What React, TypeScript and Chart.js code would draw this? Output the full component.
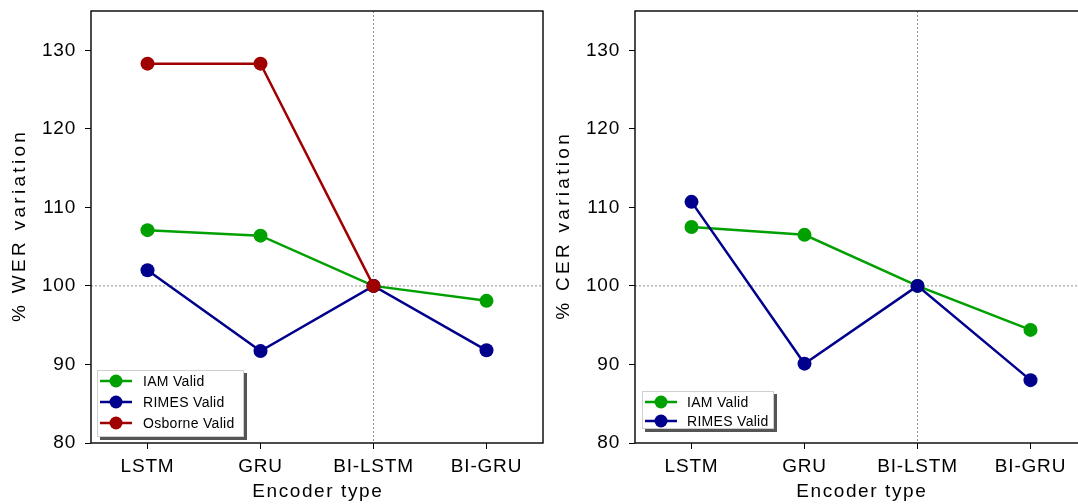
import React, { useEffect, useRef } from "react";
import { Chart, registerables } from "chart.js";

Chart.register(...registerables);

const categories = ["LSTM", "GRU", "BI-LSTM", "BI-GRU"];
const werIam = [107.1, 106.4, 100, 98.1];
const werRimes = [102.0, 91.7, 100, 91.8];
const werOsborne: (number | null)[] = [128.3, 128.3, 100, null];
const cerIam = [107.5, 106.5, 100, 94.4];
const cerRimes = [110.7, 90.1, 100, 88.0];
const yTickValues = [80, 90, 100, 110, 120, 130];
const xTitle = "Encoder type";

const GREEN = "#00a000";
const BLUE = "#00008c";
const RED = "#a00000";
const FONT = "'Liberation Sans', Arial, sans-serif";

type Series = { label: string; data: (number | null)[]; color: string; order: number };

type LegendBox = { dx: number; dyFromBottom: number; w: number; h: number; rows: number[]; lineX0: number; lineX1: number; textX: number };

function makeChart(canvas: HTMLCanvasElement, yTitle: string, series: Series[], legend: LegendBox) {
  const framePlugin = {
    id: "frameAndRefs",
    beforeDraw(chart: any) {
      (chart.ctx as any).letterSpacing = "0.8px";
    },
    beforeDatasetsDraw(chart: any) {
      const { ctx, chartArea, scales } = chart;
      ctx.save();
      ctx.strokeStyle = "#777";
      ctx.lineWidth = 0.8;
      ctx.setLineDash([2, 2]);
      const y100 = scales.y.getPixelForValue(100);
      ctx.beginPath();
      ctx.moveTo(chartArea.left, y100);
      ctx.lineTo(chartArea.right, y100);
      ctx.stroke();
      const xb = scales.x.getPixelForValue(2);
      ctx.beginPath();
      ctx.moveTo(xb, chartArea.top);
      ctx.lineTo(xb, chartArea.bottom);
      ctx.stroke();
      ctx.restore();
    },
    afterDraw(chart: any) {
      const { ctx, chartArea } = chart;
      ctx.save();
      ctx.strokeStyle = "#000";
      ctx.lineWidth = 1.4;
      ctx.strokeRect(chartArea.left, chartArea.top, chartArea.right - chartArea.left, chartArea.bottom - chartArea.top);

      // axis titles
      ctx.fillStyle = "#000";
      ctx.font = `19px ${FONT}`;
      ctx.textAlign = "center";
      ctx.textBaseline = "middle";
      ctx.letterSpacing = "1.6px";
      ctx.fillText(xTitle, (chartArea.left + chartArea.right) / 2 + 0.8, 492);
      ctx.save();
      ctx.translate(20, (chartArea.top + chartArea.bottom) / 2);
      ctx.rotate(-Math.PI / 2);
      ctx.letterSpacing = "3.3px";
      ctx.fillText(yTitle, 1.6, 0);
      ctx.restore();
      ctx.letterSpacing = "0.3px";

      // legend
      const bx = chartArea.left + legend.dx;
      const by = chartArea.bottom - legend.dyFromBottom;
      ctx.fillStyle = "#555";
      ctx.fillRect(bx + 3, by + 3, legend.w, legend.h);
      ctx.fillStyle = "#fff";
      ctx.fillRect(bx, by, legend.w, legend.h);
      ctx.strokeStyle = "#cfcfcf";
      ctx.lineWidth = 1;
      ctx.strokeRect(bx + 0.5, by + 0.5, legend.w - 1, legend.h - 1);
      series.forEach((s, i) => {
        const ry = by + legend.rows[i];
        const x0 = chartArea.left + legend.lineX0;
        const x1 = chartArea.left + legend.lineX1;
        ctx.strokeStyle = s.color;
        ctx.lineWidth = 2.5;
        ctx.beginPath();
        ctx.moveTo(x0, ry);
        ctx.lineTo(x1, ry);
        ctx.stroke();
        ctx.fillStyle = s.color;
        ctx.beginPath();
        ctx.arc((x0 + x1) / 2, ry, 6.5, 0, Math.PI * 2);
        ctx.fill();
        ctx.fillStyle = "#000";
        ctx.font = `14px ${FONT}`;
        ctx.textBaseline = "middle";
        ctx.textAlign = "left";
        ctx.fillText(s.label, chartArea.left + legend.textX, ry + 1);
      });
      ctx.restore();
    },
  };

  return new Chart(canvas, {
    type: "line",
    data: {
      labels: categories,
      datasets: series.map((s) => ({
        label: s.label,
        data: s.data,
        borderColor: s.color,
        backgroundColor: s.color,
        pointBackgroundColor: s.color,
        pointBorderColor: s.color,
        pointBorderWidth: 0,
        pointRadius: 7,
        pointHoverRadius: 7,
        borderWidth: 2.5,
        tension: 0,
        spanGaps: false,
        order: s.order,
        clip: false as any,
      })),
    },
    options: {
      responsive: false,
      animation: false,
      layout: { padding: { top: 11, right: 6, left: 0, bottom: 0 } },
      plugins: { legend: { display: false }, tooltip: { enabled: false } },
      scales: {
        x: {
          type: "category",
          offset: true,
          border: { display: false },
          grid: { drawOnChartArea: false, drawTicks: true, tickLength: 6, tickColor: "#000", tickWidth: 1 },
          ticks: { color: "#000", font: { family: FONT, size: 19 }, padding: 6, maxRotation: 0 },
          title: { display: false },
          afterFit: (scale: any) => {
            scale.height = 61;
            scale.paddingLeft = 0;
            scale.paddingRight = 0;
          },
        },
        y: {
          type: "linear",
          min: 80,
          max: 135,
          border: { display: false },
          grid: { drawOnChartArea: false, drawTicks: true, tickLength: 6, tickColor: "#000", tickWidth: 1 },
          ticks: { color: "#000", font: { family: FONT, size: 19 }, padding: 9, stepSize: 10 },
          afterBuildTicks: (scale: any) => {
            scale.ticks = yTickValues.map((v) => ({ value: v }));
          },
          title: { display: false },
          afterFit: (scale: any) => {
            scale.width = 91;
            scale.paddingTop = 0;
            scale.paddingBottom = 0;
          },
        },
      },
    },
    plugins: [framePlugin],
  } as any);
}

function Panel({ left, yTitle, series, legend }: { left: number; yTitle: string; series: Series[]; legend: LegendBox }) {
  const ref = useRef<HTMLCanvasElement>(null);
  useEffect(() => {
    if (!ref.current) return;
    const chart = makeChart(ref.current, yTitle, series, legend);
    return () => chart.destroy();
  }, []);
  return (
    <div style={{ position: "absolute", left, top: 0, width: 550, height: 504 }}>
      <canvas ref={ref} width={550} height={504} style={{ display: "block" }} />
    </div>
  );
}

export default function App() {
  const werSeries: Series[] = [
    { label: "IAM Valid", data: werIam, color: GREEN, order: 3 },
    { label: "RIMES Valid", data: werRimes, color: BLUE, order: 2 },
    { label: "Osborne Valid", data: werOsborne, color: RED, order: 1 },
  ];
  const cerSeries: Series[] = [
    { label: "IAM Valid", data: cerIam, color: GREEN, order: 3 },
    { label: "RIMES Valid", data: cerRimes, color: BLUE, order: 2 },
  ];
  return (
    <div style={{ position: "fixed", left: 0, top: 0, width: 1078, height: 504, overflow: "hidden", background: "#fff" }}>
      <Panel
        left={0}
        yTitle="% WER variation"
        series={werSeries}
        legend={{ dx: 6, dyFromBottom: 73, w: 147, h: 67, rows: [11, 32, 53], lineX0: 9, lineX1: 41, textX: 52 }}
      />
      <Panel
        left={544}
        yTitle="% CER variation"
        series={cerSeries}
        legend={{ dx: 7, dyFromBottom: 52, w: 132, h: 38, rows: [11, 30], lineX0: 10, lineX1: 42, textX: 52 }}
      />
    </div>
  );
}
